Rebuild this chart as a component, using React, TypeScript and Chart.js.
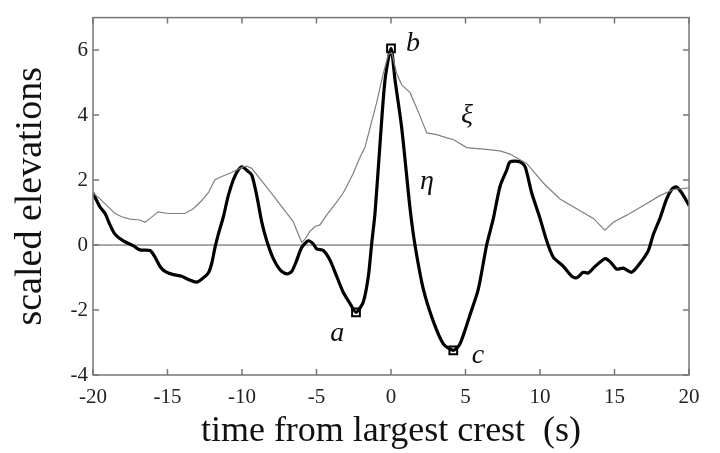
import React, { useEffect, useRef } from "react";
import { Chart, registerables } from "chart.js";

Chart.register(...registerables);

// thick curve: eta
const etaX = [-20, -19.53, -19.19, -18.86, -18.52, -17.97, -17.3, -16.85, -16.17, -15.84, -15.5, -15.17, -14.61, -14.05, -13.6, -13.04, -12.6, -12.26, -12.03, -11.81, -11.59, -11.25, -10.92, -10.58, -10.25, -10.0, -9.68, -9.35, -9.01, -8.68, -8.34, -7.9, -7.45, -7.0, -6.66, -6.33, -5.99, -5.55, -5.21, -4.99, -4.54, -4.09, -3.65, -3.2, -2.75, -2.35, -1.86, -1.52, -1.3, -1.07, -0.74, -0.4, 0.0, 0.27, 0.72, 1.28, 1.61, 2.17, 2.84, 3.51, 4.18, 4.63, 5.3, 5.86, 6.42, 6.87, 7.32, 7.77, 7.99, 8.66, 9.0, 9.44, 10.0, 10.45, 10.89, 11.57, 12.13, 12.46, 12.9, 13.24, 13.69, 14.36, 14.7, 15.15, 15.59, 16.15, 16.71, 17.27, 17.61, 18.05, 18.5, 18.84, 19.13, 19.51, 20];
const etaY = [1.6, 1.17, 0.97, 0.62, 0.33, 0.13, -0.02, -0.15, -0.17, -0.37, -0.66, -0.81, -0.91, -0.96, -1.06, -1.14, -1.01, -0.86, -0.56, -0.07, 0.33, 0.87, 1.52, 2.01, 2.31, 2.41, 2.3, 2.16, 1.52, 0.72, 0.13, -0.42, -0.76, -0.89, -0.81, -0.47, -0.07, 0.13, 0.03, -0.12, -0.17, -0.47, -0.96, -1.46, -1.8, -2.07, -1.75, -0.96, 0.03, 1.0, 3.1, 5.08, 6.05, 5.08, 3.6, 1.12, 0.0, -1.36, -2.35, -3.04, -3.24, -3.04, -2.15, -1.36, 0.0, 0.82, 1.81, 2.31, 2.56, 2.56, 2.41, 1.61, 0.82, 0.13, -0.37, -0.66, -0.96, -1.01, -0.84, -0.86, -0.66, -0.42, -0.51, -0.74, -0.71, -0.84, -0.56, -0.17, 0.33, 0.82, 1.42, 1.71, 1.79, 1.61, 1.22];

// thin curve: xi
const xiX = [-20, -19.53, -19.08, -18.52, -18.07, -17.52, -16.85, -16.51, -16.17, -15.62, -14.95, -14.27, -13.83, -13.27, -12.7, -12.26, -11.81, -11.36, -10.81, -10.36, -9.91, -9.68, -9.35, -8.57, -7.9, -7.23, -6.56, -6.22, -5.99, -5.77, -5.44, -5.1, -4.77, -4.32, -3.65, -3.2, -2.97, -2.53, -2.08, -1.75, -1.41, -0.96, -0.52, -0.18, 0.05, 0.38, 0.72, 1.28, 1.84, 2.4, 3.07, 3.74, 4.18, 5.08, 6.2, 7.32, 7.99, 9.11, 10.22, 11.34, 12.46, 13.58, 14.36, 14.92, 15.82, 16.94, 18.05, 18.95, 20];
const xiY = [1.6, 1.42, 1.22, 0.97, 0.87, 0.8, 0.77, 0.7, 0.82, 1.02, 0.97, 0.97, 0.97, 1.12, 1.37, 1.61, 2.01, 2.11, 2.21, 2.31, 2.41, 2.43, 2.36, 1.91, 1.52, 1.12, 0.72, 0.33, 0.08, 0.18, 0.42, 0.57, 0.62, 0.92, 1.32, 1.61, 1.81, 2.21, 2.7, 3.0, 3.6, 4.39, 5.28, 5.87, 5.92, 5.28, 4.93, 4.69, 4.09, 3.45, 3.4, 3.3, 3.25, 3.0, 2.95, 2.9, 2.8, 2.51, 1.91, 1.42, 1.12, 0.82, 0.46, 0.7, 0.92, 1.22, 1.52, 1.71, 1.76];

// marked points a, b, c
const markX = [-2.35, 0.0, 4.18];
const markY = [-2.07, 6.05, -3.24];

// text annotations (data coordinates)
const noteText = ["a", "b", "c", "ξ", "η"];
const noteX = [-3.6, 1.48, 5.84, 5.1, 2.42];
const noteY = [-2.73, 6.21, -3.39, 3.98, 1.96];

const xTicks = [-20, -15, -10, -5, 0, 5, 10, 15, 20];
const yTicks = [-4, -2, 0, 2, 4, 6];

const SERIF = "'Liberation Serif', 'Times New Roman', serif";

const framePlugin = {
  id: "frame",
  beforeDatasetsDraw(chart: any) {
    const { ctx, chartArea: a, scales } = chart;
    const y0 = scales.y.getPixelForValue(0);
    ctx.save();
    ctx.strokeStyle = "#555";
    ctx.lineWidth = 1;
    ctx.beginPath();
    ctx.moveTo(a.left, y0);
    ctx.lineTo(a.right, y0);
    ctx.stroke();
    ctx.restore();
  },
  afterDatasetsDraw(chart: any) {
    const { ctx, chartArea: a, scales } = chart;
    ctx.save();
    ctx.strokeStyle = "#777";
    ctx.lineWidth = 1.5;
    ctx.strokeRect(a.left, a.top, a.right - a.left, a.bottom - a.top);
    const tl = 6;
    ctx.beginPath();
    xTicks.forEach((v) => {
      const px = scales.x.getPixelForValue(v);
      ctx.moveTo(px, a.bottom);
      ctx.lineTo(px, a.bottom - tl);
      ctx.moveTo(px, a.top);
      ctx.lineTo(px, a.top + tl);
    });
    yTicks.forEach((v) => {
      const py = scales.y.getPixelForValue(v);
      ctx.moveTo(a.left, py);
      ctx.lineTo(a.left + tl, py);
      ctx.moveTo(a.right, py);
      ctx.lineTo(a.right - tl, py);
    });
    ctx.stroke();
    ctx.fillStyle = "#111";
    ctx.font = "italic 28px " + SERIF;
    ctx.textAlign = "center";
    ctx.textBaseline = "middle";
    noteText.forEach((t, i) => {
      ctx.fillText(t, scales.x.getPixelForValue(noteX[i]), scales.y.getPixelForValue(noteY[i]));
    });
    ctx.restore();
  },
};

export default function App() {
  const ref = useRef<HTMLCanvasElement>(null);
  useEffect(() => {
    if (!ref.current) return;
    const chart = new Chart(ref.current, {
      type: "scatter",
      data: {
        datasets: [
          {
            label: "xi",
            data: xiX.map((x, i) => ({ x, y: xiY[i] })),
            showLine: true,
            borderColor: "#808080",
            borderWidth: 1.2,
            pointRadius: 0,
            tension: 0,
          },
          {
            label: "eta",
            data: etaX.map((x, i) => ({ x, y: etaY[i] })),
            showLine: true,
            borderColor: "#000",
            borderWidth: 3.2,
            pointRadius: 0,
            tension: 0.25,
          },
          {
            label: "marks",
            data: markX.map((x, i) => ({ x, y: markY[i] })),
            showLine: false,
            pointStyle: "rect",
            pointRadius: 5.5,
            pointBackgroundColor: "#fff",
            pointBorderColor: "#000",
            pointBorderWidth: 2,
          },
        ],
      },
      options: {
        animation: false,
        responsive: false,
        events: [],
        layout: { padding: { left: 0, top: 5, right: 31, bottom: 0 } },
        plugins: { legend: { display: false }, tooltip: { enabled: false } },
        scales: {
          x: {
            type: "linear",
            min: -20,
            max: 20,
            grid: { display: false, drawTicks: false },
            border: { display: false },
            afterBuildTicks: (s: any) => {
              s.ticks = xTicks.map((v) => ({ value: v }));
            },
            afterFit: (s: any) => {
              s.height = 78;
            },
            ticks: {
              padding: 10,
              color: "#222",
              font: { family: SERIF, size: 21 },
              maxRotation: 0,
              callback: (v: any) => String(v),
            },
            title: {
              display: true,
              text: "time from largest crest  (s)",
              color: "#111",
              font: { family: SERIF, size: 36 },
              padding: { top: 0, bottom: 0 },
            },
          },
          y: {
            type: "linear",
            min: -4,
            max: 7,
            grid: { display: false, drawTicks: false },
            border: { display: false },
            afterBuildTicks: (s: any) => {
              s.ticks = yTicks.map((v) => ({ value: v }));
            },
            afterFit: (s: any) => {
              s.width = 93;
            },
            ticks: {
              padding: 5,
              color: "#222",
              font: { family: SERIF, size: 21 },
              callback: (v: any) => String(v),
            },
            title: {
              display: true,
              text: "scaled elevations",
              color: "#111",
              font: { family: SERIF, size: 38 },
              padding: { top: 8, bottom: 0 },
            },
          },
        },
      },
      plugins: [framePlugin],
    });
    return () => chart.destroy();
  }, []);
  return (
    <div style={{ position: "fixed", left: 0, top: 0, width: 720, height: 453, background: "#fff" }}>
      <canvas ref={ref} width={720} height={453} style={{ display: "block" }} />
    </div>
  );
}
